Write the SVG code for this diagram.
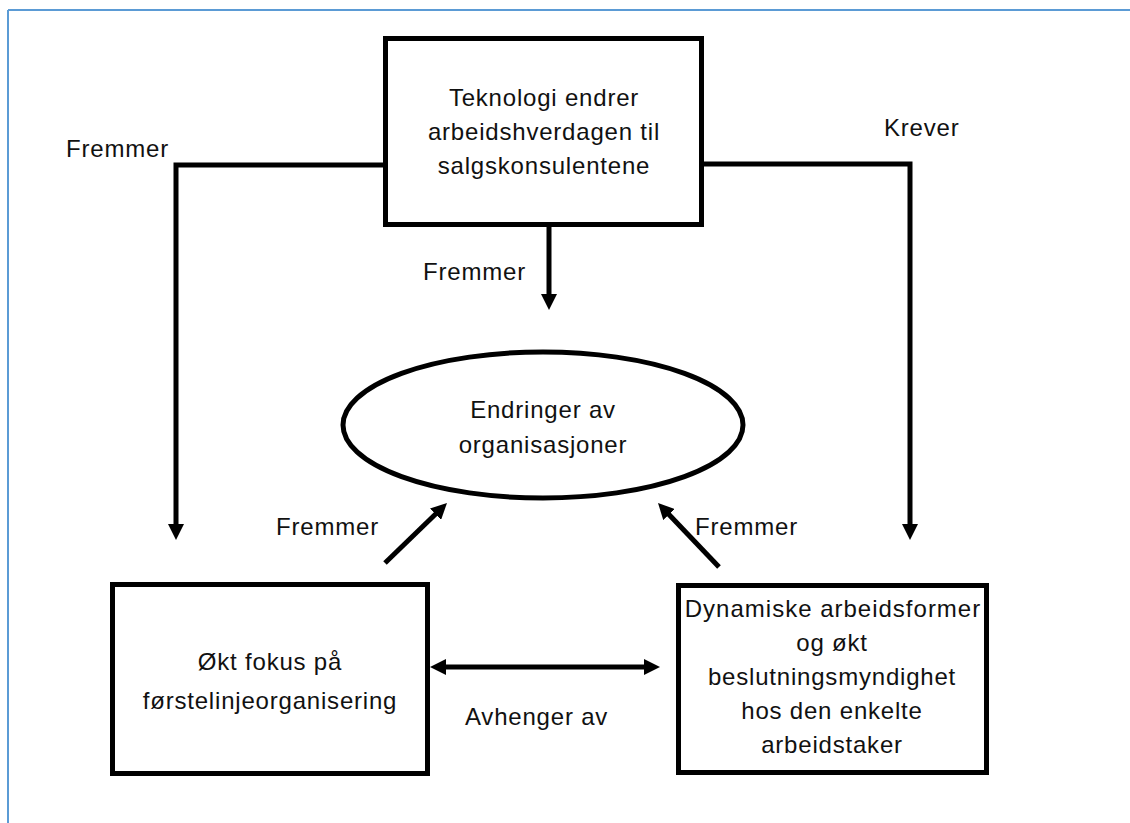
<svg xmlns="http://www.w3.org/2000/svg" width="1130" height="823" viewBox="0 0 1130 823">
  <style>
    .node { fill: #ffffff; stroke: #000000; stroke-width: 5; }
    .conn { fill: none; stroke: #000000; stroke-width: 5; }
    text { font-family: "Liberation Sans", Arial, sans-serif; font-size: 24px; fill: #111111; letter-spacing: 0.8px; }
    .c { text-anchor: middle; }
  </style>
  <defs>
    <marker id="arrow" viewBox="0 0 16 16" refX="6" refY="8" markerWidth="16" markerHeight="16" markerUnits="userSpaceOnUse" orient="auto-start-reverse">
      <path d="M0,0 L16,8 L0,16 z" fill="#000000"/>
    </marker>
  </defs>
  <rect width="1130" height="823" fill="#ffffff"/>
  <g id="frame" stroke="#5b9bd5" stroke-width="2" fill="none">
    <line x1="8" y1="10" x2="1130" y2="10"/>
    <line x1="8" y1="10" x2="8" y2="823"/>
  </g>

  <g id="connectors">
    <path class="conn" d="M386 165 H176 V530" marker-end="url(#arrow)"/>
    <path class="conn" d="M702 164 H910 V530" marker-end="url(#arrow)"/>
    <path class="conn" d="M549 227 V300" marker-end="url(#arrow)"/>
    <path class="conn" d="M385 563 L439.8 510" marker-end="url(#arrow)"/>
    <path class="conn" d="M719 567 L664.9 510.2" marker-end="url(#arrow)"/>
    <path class="conn" d="M440 667 H650" marker-start="url(#arrow)" marker-end="url(#arrow)"/>
    <text x="66" y="157">Fremmer</text>
    <text x="884" y="136">Krever</text>
    <text x="423" y="280">Fremmer</text>
    <text x="276" y="535">Fremmer</text>
    <text x="695" y="535">Fremmer</text>
    <text x="465" y="725">Avhenger av</text>
  </g>

  <g id="node-teknologi">
    <rect class="node" x="385.5" y="38.5" width="316" height="186"/>
    <text class="c" x="544" y="106">Teknologi endrer</text>
    <text class="c" x="544" y="140">arbeidshverdagen til</text>
    <text class="c" x="544" y="174">salgskonsulentene</text>
  </g>

  <g id="node-endringer">
    <ellipse class="node" cx="543" cy="425" rx="200" ry="73"/>
    <text class="c" x="543" y="418">Endringer av</text>
    <text class="c" x="543" y="453">organisasjoner</text>
  </g>

  <g id="node-fokus">
    <rect class="node" x="112.5" y="584.5" width="315" height="189"/>
    <text class="c" x="270" y="670">Økt fokus på</text>
    <text class="c" x="270" y="709">førstelinjeorganisering</text>
  </g>

  <g id="node-dynamiske">
    <rect class="node" x="678.5" y="585.5" width="308" height="187"/>
    <text class="c" x="833" y="617" style="letter-spacing:1px">Dynamiske arbeidsformer</text>
    <text class="c" x="832" y="651">og økt</text>
    <text class="c" x="832" y="685">beslutningsmyndighet</text>
    <text class="c" x="832" y="719">hos den enkelte</text>
    <text class="c" x="832" y="753">arbeidstaker</text>
  </g>
</svg>
